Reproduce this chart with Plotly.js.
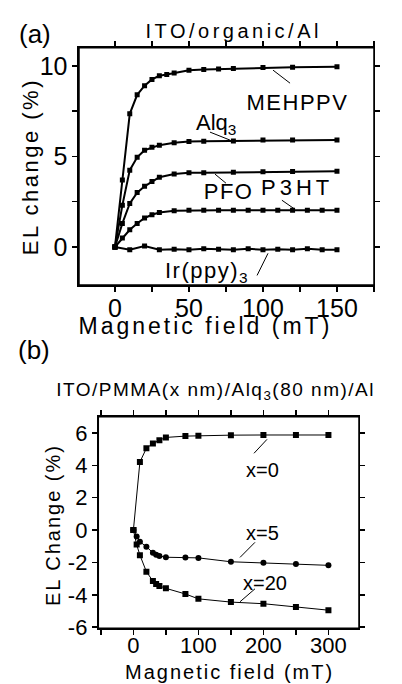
<!DOCTYPE html>
<html>
<head>
<meta charset="utf-8">
<script src="https://cdn.plot.ly/plotly-3.0.1.min.js"></script>
<style>
html, body { margin: 0; padding: 0; background: #fff; }
#chart { width: 402px; height: 684px; }
</style>
</head>
<body>
<div id="chart"></div>
<script>
// ---------- Panel (a): ITO/organic/Al ----------
const mehppvX = [0, 5, 10, 15, 20, 25, 30, 35, 40, 50, 60, 70, 80, 100, 120, 150];
const mehppvY = [0, 3.7, 7.35, 8.4, 8.9, 9.25, 9.45, 9.52, 9.6, 9.75, 9.8, 9.82, 9.85, 9.9, 9.92, 9.95];
const alq3X = [0, 5, 10, 15, 20, 25, 30, 40, 50, 60, 80, 100, 120, 150];
const alq3Y = [0, 2.3, 4.24, 4.95, 5.34, 5.5, 5.62, 5.75, 5.82, 5.84, 5.85, 5.9, 5.9, 5.9];
const pfoX = [0, 5, 10, 15, 20, 25, 30, 40, 50, 60, 80, 100, 120, 150];
const pfoY = [0, 1.3, 2.4, 3.0, 3.35, 3.62, 3.85, 4.03, 4.1, 4.1, 4.12, 4.15, 4.17, 4.18];
const p3htX = [0, 5, 10, 15, 20, 25, 30, 40, 50, 60, 70, 80, 90, 100, 110, 120, 130, 140, 150];
const p3htY = [0, 0.5, 0.95, 1.3, 1.6, 1.78, 1.9, 2.0, 2.02, 2.02, 2.02, 2.02, 2.02, 2.02, 2.02, 2.02, 2.02, 2.02, 2.02];
const irX = [0, 10, 20, 30, 40, 50, 60, 70, 80, 90, 100, 110, 120, 130, 140, 150];
const irY = [0, -0.15, 0.05, -0.15, -0.12, -0.15, -0.1, -0.12, -0.15, -0.1, -0.15, -0.12, -0.15, -0.1, -0.15, -0.15];

// ---------- Panel (b): ITO/PMMA(x nm)/Alq3(80 nm)/Al ----------
const x0X = [0, 10, 20, 30, 40, 50, 80, 100, 150, 200, 250, 300];
const x0Y = [0, 4.2, 5.05, 5.35, 5.55, 5.72, 5.8, 5.82, 5.86, 5.87, 5.87, 5.87];
const x5X = [0, 5, 10, 20, 30, 35, 40, 50, 80, 100, 150, 200, 250, 300];
const x5Y = [0, -0.4, -0.72, -1.03, -1.4, -1.52, -1.6, -1.68, -1.7, -1.72, -1.96, -2.02, -2.1, -2.18];
const x20X = [0, 5, 10, 20, 30, 35, 40, 50, 80, 100, 150, 200, 250, 300];
const x20Y = [0, -0.9, -1.55, -2.57, -3.15, -3.33, -3.45, -3.6, -3.95, -4.25, -4.45, -4.55, -4.75, -4.95];

// tick values and labels
const ticksAX = [0, 50, 100, 150];
const ticksAY = [0, 5, 10];
const ticksBX = [0, 100, 200, 300];
const ticksBY = [-6, -4, -2, 0, 2, 4, 6];
const labelsBY = ['-6', '-4', '-2', '0', '2', '4', '6'];

const seriesA = [
  {name: 'MEHPPV', x: mehppvX, y: mehppvY},
  {name: 'Alq3', x: alq3X, y: alq3Y},
  {name: 'PFO', x: pfoX, y: pfoY},
  {name: 'P3HT', x: p3htX, y: p3htY},
  {name: 'Ir(ppy)3', x: irX, y: irY}
];
const seriesB = [
  {name: 'x=0', x: x0X, y: x0Y, symbol: 'square', size: 6},
  {name: 'x=5', x: x5X, y: x5Y, symbol: 'circle', size: 6},
  {name: 'x=20', x: x20X, y: x20Y, symbol: 'square', size: 6}
];

const FONT = 'Liberation Sans, Arial, Helvetica, sans-serif';
const traces = [];
seriesA.forEach(s => traces.push({
  type: 'scatter', mode: 'lines+markers', name: s.name, x: s.x, y: s.y,
  xaxis: 'x', yaxis: 'y',
  line: {color: '#000', width: 2},
  marker: {symbol: 'square', size: 5, color: '#000'}
}));
seriesB.forEach(s => traces.push({
  type: 'scatter', mode: 'lines+markers', name: s.name, x: s.x, y: s.y,
  xaxis: 'x2', yaxis: 'y2',
  line: {color: '#000', width: 1},
  marker: {symbol: s.symbol, size: s.size, color: '#000'}
}));

const rangeAX = [-24.3, 175], rangeAY = [-2.1, 11];
const rangeBX = [-54, 347], rangeBY = [-6.07, 7.0];
const domAX = [0.1965, 0.9303], domAY = [0.5833, 0.9303];
const domBX = [0.2445, 0.893], domBY = [0.0814, 0.3908];

const baseAxis = {
  showline: true, linecolor: '#000', linewidth: 1.5, mirror: 'ticks',
  showgrid: false, zeroline: false, ticks: 'outside', ticklen: 5, tickwidth: 1.5, tickcolor: '#000',
  fixedrange: true
};
const minorOut = (d) => ({dtick: d, tick0: 0, ticks: 'outside', ticklen: 5, tickwidth: 1.5, tickcolor: '#000', showgrid: false});

const layout = {
  width: 402, height: 684, autosize: false,
  margin: {l: 0, r: 0, t: 0, b: 0, pad: 0},
  paper_bgcolor: '#fff', plot_bgcolor: '#fff', showlegend: false,
  font: {family: FONT, color: '#000'},
  xaxis: Object.assign({}, baseAxis, {
    domain: domAX, anchor: 'y', range: rangeAX,
    tickmode: 'array', tickvals: ticksAX, minor: minorOut(25), tickfont: {size: 25}, ticklabelstandoff: -5
  }),
  yaxis: Object.assign({}, baseAxis, {
    domain: domAY, anchor: 'x', range: rangeAY,
    tickmode: 'array', tickvals: ticksAY, minor: minorOut(2.5), tickfont: {size: 25}
  }),
  xaxis2: Object.assign({}, baseAxis, {
    domain: domBX, anchor: 'y2', range: rangeBX,
    tickmode: 'array', tickvals: ticksBX, minor: minorOut(50), tickfont: {size: 22}, ticklabelstandoff: -8
  }),
  yaxis2: Object.assign({}, baseAxis, {
    domain: domBY, anchor: 'x2', range: rangeBY,
    tickmode: 'array', tickvals: ticksBY, ticktext: labelsBY, tickfont: {size: 22}
  }),
  annotations: [
    // panel labels and titles
    {xref: 'paper', yref: 'paper', x: 0.087, y: 0.951, text: '(a)', font: {size: 26}},
    {xref: 'paper', yref: 'paper', x: 0.58, y: 0.955, text: 'ITO/organic/Al', font: {size: 20}},
    {xref: 'paper', yref: 'paper', x: 0.085, y: 0.488, text: '(b)', font: {size: 26}},
    {xref: 'paper', yref: 'paper', x: 0.537, y: 0.428, text: 'ITO/PMMA(x nm)/Alq<sub>3</sub>(80 nm)/Al', font: {size: 19}},
    // axis titles
    {xref: 'paper', yref: 'paper', x: 0.51, y: 0.5234, text: 'Magnetic field (mT)', font: {size: 23}},
    {xref: 'paper', yref: 'paper', x: 0.0746, y: 0.7573, text: 'EL change (%)', textangle: -90, font: {size: 22}},
    {xref: 'paper', yref: 'paper', x: 0.57, y: 0.0175, text: 'Magnetic field (mT)', font: {size: 20}},
    {xref: 'paper', yref: 'paper', x: 0.132, y: 0.2325, text: 'EL Change (%)', textangle: -90, font: {size: 20}},
    // panel (a) labels
    {xref: 'x', yref: 'y', x: 123.6, y: 8.0, text: 'MEHPPV', font: {size: 22}},
    {xref: 'x', yref: 'y', x: 68, y: 6.8, text: 'Alq<sub>3</sub>', font: {size: 22}},
    {xref: 'x', yref: 'y', x: 77, y: 3.05, text: 'PFO', font: {size: 22}},
    {xref: 'x', yref: 'y', x: 123, y: 3.3, text: 'P3HT', font: {size: 22}},
    {xref: 'x', yref: 'y', x: 62, y: -1.4, text: 'Ir(ppy)<sub>3</sub>', font: {size: 22}},
    // panel (b) labels
    {xref: 'x2', yref: 'y2', x: 198, y: 3.7, text: 'x=0', font: {size: 20}},
    {xref: 'x2', yref: 'y2', x: 198, y: -0.19, text: 'x=5', font: {size: 20}},
    {xref: 'x2', yref: 'y2', x: 202, y: -3.27, text: 'x=20', font: {size: 20}}
  ].map(a => Object.assign({showarrow: false, xanchor: 'center', yanchor: 'middle'}, a)),
  shapes: [
    // plot frames (paper referenced, not clipped)
    {type: 'rect', xref: 'paper', yref: 'paper', x0: domAX[0], x1: domAX[1], y0: domAY[0], y1: domAY[1], line: {color: '#000', width: 1.5}},
    {type: 'rect', xref: 'paper', yref: 'paper', x0: domBX[0], x1: domBX[1], y0: domBY[0], y1: domBY[1], line: {color: '#000', width: 1.5}}
  ].concat([
    // pointer lines, panel (a)
    {xref: 'x', yref: 'y', x0: 106.8, y0: 9.76, x1: 118.3, y1: 9.04},
    {xref: 'x', yref: 'y', x0: 77.7, y0: 5.9, x1: 64.2, y1: 6.34},
    {xref: 'x', yref: 'y', x0: 67.6, y0: 4.02, x1: 75.0, y1: 3.52},
    {xref: 'x', yref: 'y', x0: 121.6, y0: 2.08, x1: 112.8, y1: 2.58},
    {xref: 'x', yref: 'y', x0: 103.4, y0: -0.35, x1: 96.0, y1: -1.57},
    // pointer lines, panel (b)
    {xref: 'x2', yref: 'y2', x0: 205.5, y0: 5.6, x1: 185.5, y1: 4.74},
    {xref: 'x2', yref: 'y2', x0: 164, y0: -1.69, x1: 187, y1: -0.76},
    {xref: 'x2', yref: 'y2', x0: 164, y0: -4.43, x1: 187, y1: -3.63}
  ].map(s => Object.assign({type: 'line', line: {color: '#000', width: 1}}, s)))
};

const spacing = {
  'ITO/organic/Al': '3.5px',
  'MEHPPV': '1.5px', 'PFO': '1.5px', 'P3HT': '4px',
  'EL change (%)': '2.5px', 'EL Change (%)': '2px'
};

Plotly.newPlot('chart', traces, layout, {staticPlot: true, displayModeBar: false}).then(() => {
  const gd = document.getElementById('chart');
  gd.querySelectorAll('.annotation-text').forEach(t => {
    const s = t.textContent;
    const size = parseFloat(t.style.fontSize);
    if (spacing[s] !== undefined) t.style.letterSpacing = spacing[s];
    else if (s === 'Magnetic field (mT)') t.style.letterSpacing = size > 21 ? '3px' : '2px';
    else if (s.indexOf('PMMA') >= 0) t.style.letterSpacing = '1.5px';
    else if (s.indexOf('Ir(ppy)') >= 0) t.style.letterSpacing = '1.5px';
  });
});
</script>
</body>
</html>
